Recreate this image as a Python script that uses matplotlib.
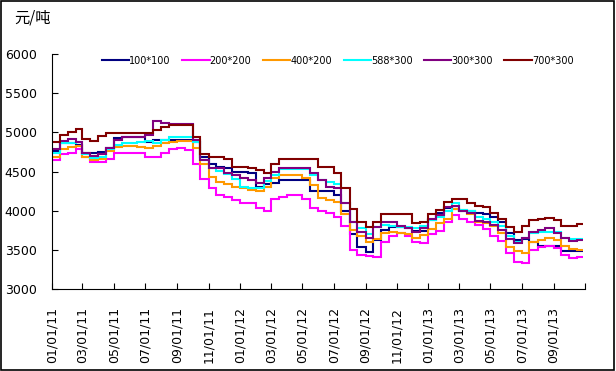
import datetime as dt
import matplotlib
matplotlib.use("Agg")
import matplotlib.pyplot as plt
import matplotlib.dates as mdates
from matplotlib.patches import Rectangle

# step edges: 1st and 16th of every month, last edge = end of data
edges = []
for y in (2011, 2012, 2013):
    for m in range(1, 13):
        if y == 2013 and m > 10:
            break
        edges.append(dt.date(y, m, 1))
        edges.append(dt.date(y, m, 16))
edges.append(dt.date(2013, 10, 28))

labels = ["100*100", "200*200", "400*200", "588*300", "300*300", "700*300"]
colors = ["#000080", "#FF00FF", "#FF9900", "#00FFFF", "#800080", "#800000"]

v100 = [4760, 4860, 4870, 4840, 4740, 4740, 4750, 4800, 4930, 4940, 4940, 4940,
        4880, 4900, 4900, 4900, 4900, 4900, 4880, 4690, 4600, 4560, 4550, 4500,
        4500, 4480, 4300, 4335, 4350, 4390, 4390, 4390, 4390, 4245, 4245, 4245,
        4200, 3990, 3700, 3540, 3470, 3620, 3750, 3795, 3795, 3775, 3740, 3740,
        3880, 3965, 4030, 4020, 3990, 4000, 3965, 3960, 3925, 3860, 3720, 3625,
        3640, 3600, 3545, 3545, 3545, 3480, 3480, 3480]
v200 = [4650, 4725, 4730, 4790, 4680, 4615, 4615, 4660, 4740, 4740, 4740, 4740,
        4680, 4680, 4740, 4790, 4800, 4780, 4600, 4400, 4290, 4200, 4170, 4140,
        4100, 4095, 4030, 4000, 4150, 4170, 4195, 4195, 4150, 4040, 3990, 3965,
        3920, 3800, 3500, 3440, 3420, 3410, 3600, 3680, 3710, 3680, 3600, 3585,
        3700, 3740, 3850, 3950, 3900, 3860, 3820, 3760, 3680, 3610, 3460, 3340,
        3330, 3500, 3530, 3545, 3520, 3440, 3400, 3410]
v400 = [4690, 4790, 4810, 4820, 4690, 4650, 4660, 4760, 4810, 4825, 4825, 4810,
        4800, 4830, 4860, 4880, 4895, 4895, 4800, 4600, 4430, 4370, 4340, 4305,
        4285, 4270, 4250, 4300, 4420, 4455, 4455, 4450, 4415, 4330, 4160, 4130,
        4115, 3960, 3750, 3680, 3600, 3640, 3720, 3730, 3720, 3700, 3650, 3690,
        3770, 3840, 3900, 4020, 4010, 3960, 3850, 3840, 3800, 3720, 3540, 3480,
        3460, 3600, 3630, 3650, 3620, 3545, 3510, 3500]
v588 = [4730, 4860, 4860, 4880, 4720, 4670, 4680, 4790, 4840, 4860, 4860, 4880,
        4895, 4870, 4900, 4945, 4945, 4945, 4880, 4650, 4550, 4510, 4470, 4400,
        4305, 4285, 4285, 4380, 4455, 4530, 4530, 4530, 4530, 4455, 4390, 4360,
        4335, 4100, 3860, 3780, 3700, 3795, 3820, 3800, 3795, 3790, 3775, 3800,
        3880, 3920, 3990, 4095, 4010, 3990, 3920, 3900, 3860, 3800, 3680, 3605,
        3650, 3720, 3730, 3730, 3730, 3650, 3635, 3635]
v300 = [4790, 4890, 4920, 4880, 4730, 4700, 4720, 4800, 4900, 4940, 4940, 4940,
        4960, 5150, 5120, 5105, 5105, 5105, 4900, 4650, 4540, 4540, 4480, 4455,
        4415, 4390, 4350, 4420, 4500, 4540, 4540, 4540, 4540, 4480, 4390, 4305,
        4285, 4100, 3860, 3730, 3650, 3795, 3860, 3850, 3800, 3780, 3730, 3780,
        3900, 3945, 4050, 4060, 4000, 3965, 3870, 3850, 3820, 3750, 3640, 3585,
        3650, 3730, 3750, 3785, 3720, 3650, 3610, 3625]
v700 = [4880, 4970, 5010, 5040, 4920, 4895, 4950, 4990, 4990, 4990, 4990, 4990,
        4990, 5030, 5070, 5095, 5090, 5090, 4940, 4720, 4690, 4690, 4660, 4560,
        4560, 4550, 4520, 4480, 4590, 4655, 4655, 4655, 4655, 4655, 4560, 4560,
        4480, 4290, 4020, 3860, 3795, 3850, 3955, 3955, 3955, 3955, 3840, 3850,
        3955, 4010, 4115, 4150, 4150, 4100, 4060, 4050, 3965, 3900, 3790, 3725,
        3800, 3880, 3900, 3910, 3880, 3805, 3805, 3825]
series = [v100, v200, v400, v588, v300, v700]

plt.rcParams['font.family'] = ['DejaVu Sans']

fig = plt.figure(figsize=(6.16, 3.71), dpi=100)
ax = fig.add_axes([52 / 616, 1 - 289 / 371, 533 / 616, 235 / 371])

x_edges = mdates.date2num(edges)
for vals, lab, col in zip(series, labels, colors):
    ax.stairs(vals, x_edges, baseline=None, color=col, lw=1.5, label=lab)

ax.set_ylim(3000, 6000)
ax.set_yticks(range(3000, 6001, 500))
ax.set_xlim(mdates.date2num(dt.date(2011, 1, 1)), mdates.date2num(dt.date(2013, 11, 1)))

ticks = []
for i in range(18):
    m = 1 + 2 * i
    ticks.append(dt.date(2011 + (m - 1) // 12, (m - 1) % 12 + 1, 1))
ax.set_xticks(mdates.date2num(ticks))
ax.set_xticklabels([d.strftime("%m/%d/%y") for d in ticks[:-1]] + [""], rotation=90)

for s in ("top", "right"):
    ax.spines[s].set_visible(False)
ax.tick_params(axis="y", direction="in", length=4, pad=11, labelsize=9)
ax.tick_params(axis="x", direction="in", length=4, pad=13, labelsize=9)

ax.legend(loc="upper center", bbox_to_anchor=(0.536, 1.03), ncol=6, frameon=False,
          fontsize=7, handlelength=2.8, handletextpad=0.0, columnspacing=1.2)

fig.text(14 / 616, 1 - 18 / 371, "元/吨", family=["Noto Sans CJK SC", "DejaVu Sans"],
         fontsize=11, va="center", ha="left")
fig.add_artist(Rectangle((0.002, 0.003), 0.995, 0.994, transform=fig.transFigure,
                         fill=False, lw=1.2, color="black"))

fig.savefig("out.png", dpi=100)
